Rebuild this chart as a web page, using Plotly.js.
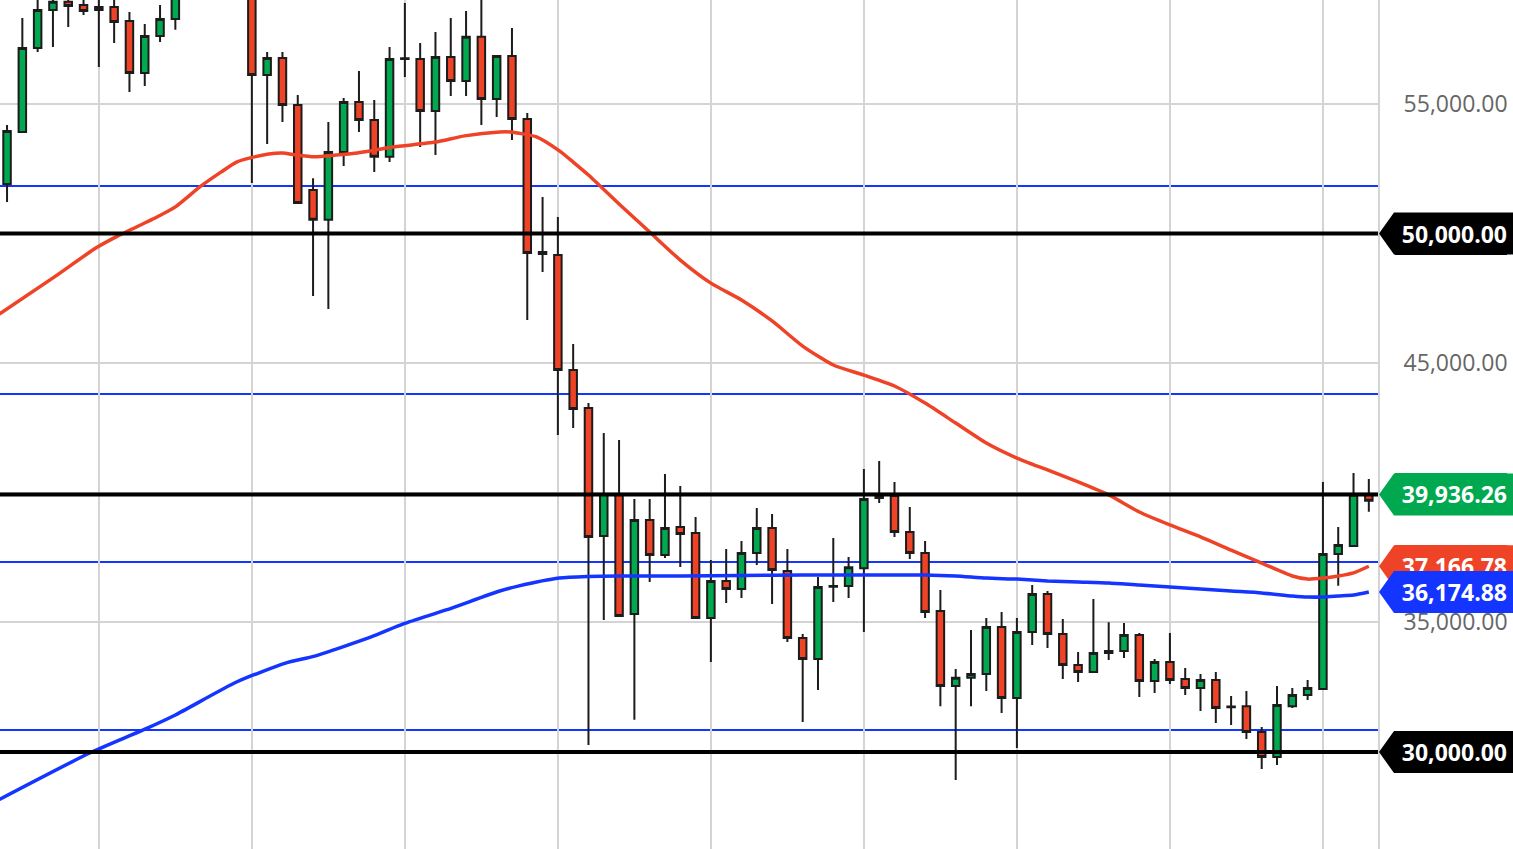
<!DOCTYPE html>
<html>
<head>
<meta charset="utf-8">
<script src="https://cdn.plot.ly/plotly-3.0.1.min.js"></script>
<style>html,body{margin:0;padding:0;background:#fff;}#chart{width:1513px;height:849px;}</style>
</head>
<body>
<div id="chart"></div>
<script>
// OHLC values (one candle per period)
const opens  = [51910,53920,57160,58630,58940,58820,58630,58740,58200,56200,57620,58280,59590,60400,61200,60800,61500,56120,56770,54960,51680,50530,53150,55080,54380,52960,56740,56740,54730,56810,55890,57590,55190,56850,54420,49290,49170,44740,43270,38330,39950,35320,38950,37600,38680,38450,35170,36600,36290,37680,38640,36980,34400,33590,36380,36400,37090,39800,39880,38490,37680,35440,32550,32860,33010,34820,32080,34630,36100,34550,33360,33090,33820,33900,34510,32740,33470,32820,32470,32780,31760,31770,30770,29810,31770,32200,32430,37640,37950,39920];
const highs  = [54190,58320,59400,59320,59240,59170,59480,59050,58550,58090,58820,59980,60900,61700,62500,62300,62000,57010,57010,55350,52140,54310,55230,56270,55150,57200,58900,57350,57780,58320,58590,59130,56890,57930,54650,51410,50640,45740,43460,42310,42040,39760,39760,40730,40260,39070,37410,37830,38140,39410,39180,37830,34550,36750,38260,37520,40920,41230,40420,39450,38140,36250,33200,34710,35170,35400,35170,36440,36210,35130,33860,35900,35010,34980,34590,33590,34590,33240,33010,33090,32160,32350,30960,32550,32470,32780,40420,38680,40760,40530];
const lows   = [51220,53900,57010,57200,57970,58430,56430,57350,55460,55690,57390,57860,59200,59900,60300,60100,51950,53460,54310,51140,47590,47090,52610,53920,52380,52760,56040,53340,53030,55310,55310,54190,54500,53610,46670,48520,42230,42500,30270,35090,35210,31240,36560,37480,37140,35130,33470,35750,35940,37210,35710,34240,31160,32390,35790,35940,34630,39610,38290,37450,35170,31770,28920,31770,32350,31500,30150,34130,34010,32820,32700,33050,33550,33630,32120,32280,32620,32200,31580,31120,31040,30500,29340,29500,31700,32010,32420,36410,37940,39270];
const closes = [53960,57160,58630,58940,58780,58590,58740,58160,56200,57620,58280,59590,60400,61200,60800,61700,56120,56770,54960,51180,50530,53150,55080,54380,52960,56740,56760,54730,56810,55890,57590,55190,56850,54420,49250,49210,44740,43230,38290,39950,35250,38950,37600,38640,38410,35170,36600,36290,37680,38640,37020,34400,33590,36370,36400,37130,39760,39880,38490,37680,35400,32550,32860,33010,34820,32080,34630,36100,34550,33360,33090,33820,33900,34510,32740,33470,32780,32470,32780,31700,31730,30770,29810,31810,32200,32470,37640,37990,39920,39690];

// Moving averages, sampled along the candle index
const redMaIdx  = [-0.5,3.1,5.8,7.25,9.8,11,12.6,14,15,15.9,17.1,18,18.9,20.1,21.5,22.9,25.2,28,29.9,32.2,32.9,34.6,36.1,37,38,40,42,44,46,48,50,52,54,56,58,60,62,64,66,68,70,72,74,76,78,80,82,84,85,86,87,88,89];
const redMaVal  = [46900,48330,49440,49910,50640,51030,51800,52380,52760,52920,53070,53110,53030,52960,53030,53110,53340,53530,53770,53920,53920,53730,53190,52760,52260,51140,50060,48980,48090,47440,46630,45660,44930,44540,44120,43460,42690,41920,41340,40880,40420,39920,39260,38760,38300,37790,37290,36790,36670,36710,36790,36910,37166.78];
const blueMaIdx = [-0.5,5.4,8.9,11,15,18.2,20.1,23.8,25.9,28.7,32.2,33.4,36.1,38,40,44,48,52,56,60,62,64,66,68,70,72,74,76,78,80,82,84,85,86,87,88,89];
const blueMaVal = [28170,29960,30850,31430,32700,33430,33700,34440,34940,35480,36210,36400,36710,36770,36790,36790,36810,36830,36830,36830,36790,36710,36670,36600,36560,36520,36440,36370,36290,36210,36135,36020,35980,35980,36020,36060,36174.88];

// Horizontal levels
const blueLevels  = [51836, 43812, 37330, 30849];
const blackLevels = [50000, 39936.26, 30000];

// Right axis tick labels
const tickValues = [30000, 35000, 40000, 45000, 50000, 55000];
const tickTexts  = ['', '35,000.00', '', '45,000.00', '', '55,000.00'];

// Price tags on the right
const tagValues = [50000, 30000, 39936.26, 37166.78, 36174.88];
const tagTexts  = ['50,000.00', '30,000.00', '39,936.26', '37,166.78', '36,174.88'];
const tagColors = ['#000000', '#000000', '#00a94f', '#ee4326', '#1434ff'];

// Vertical grid positions (candle index)
const vGrid = [6,16,26,36,46,56,66,76,86];

const GREEN = '#00a94f', RED = '#ee4326', BLUE = '#1434ff';
const idx = opens.map((_, i) => i);

const traces = [
  {type:'scatter', mode:'lines', x:redMaIdx, y:redMaVal, line:{color:RED, width:3.5, shape:'spline', smoothing:0.6}, hoverinfo:'skip'},
  {type:'scatter', mode:'lines', x:blueMaIdx, y:blueMaVal, line:{color:BLUE, width:3.5, shape:'spline', smoothing:0.6}, hoverinfo:'skip'},
  {type:'candlestick', x:idx, open:opens, high:highs, low:lows, close:closes,
   increasing:{fillcolor:GREEN, line:{color:'#1c1c1c', width:2}},
   decreasing:{fillcolor:RED, line:{color:'#1c1c1c', width:2}},
   whiskerwidth:0}
];

const shapes = [];
blueLevels.forEach(v => shapes.push({type:'line', xref:'paper', x0:0, x1:1, yref:'y', y0:v, y1:v, line:{color:BLUE, width:1.8}, layer:'below'}));
blackLevels.forEach(v => shapes.push({type:'line', xref:'paper', x0:0, x1:1, yref:'y', y0:v, y1:v, line:{color:'#000', width:4}, layer:'above'}));
tagValues.forEach((v, k) => shapes.push({type:'path', xref:'paper', xsizemode:'pixel', xanchor:1, yref:'y', ysizemode:'pixel', yanchor:v,
  path:'M1,0 L16,21 L135,21 L135,-21 L16,-21 Z', fillcolor:tagColors[k], line:{width:0}, layer:'above'}));

const annotations = tagValues.map((v, k) => ({
  xref:'paper', x:1507/1378, xanchor:'right', yref:'y', y:v, yanchor:'middle',
  text:tagTexts[k], showarrow:false, align:'right', width:112, height:42,
  bgcolor:tagColors[k], borderpad:0, borderwidth:0,
  font:{family:'Open Sans', size:23, color:'#fff', weight:'bold'}
}));

const layout = {
  width:1513, height:849,
  margin:{l:0, r:135, t:0, b:0},
  paper_bgcolor:'#fff', plot_bgcolor:'#fff',
  showlegend:false,
  xaxis:{range:[-0.46, 89.6], tickvals:vGrid, showticklabels:false, ticks:'', showgrid:true, gridcolor:'#d4d4d4', gridwidth:2, zeroline:false, rangeslider:{visible:false}, fixedrange:true},
  yaxis:{side:'right', range:[26258, 59012], tickvals:tickValues, ticktext:tickTexts, showgrid:true, gridcolor:'#d4d4d4', gridwidth:2, zeroline:false,
         showline:true, linecolor:'#d4d4d4', linewidth:2, ticks:'', ticklabelstandoff:19,
         tickfont:{family:'Open Sans', size:23, color:'#666'}, fixedrange:true},
  shapes:shapes,
  annotations:annotations
};

Plotly.newPlot('chart', traces, layout, {displayModeBar:false, staticPlot:true});
</script>
</body>
</html>
